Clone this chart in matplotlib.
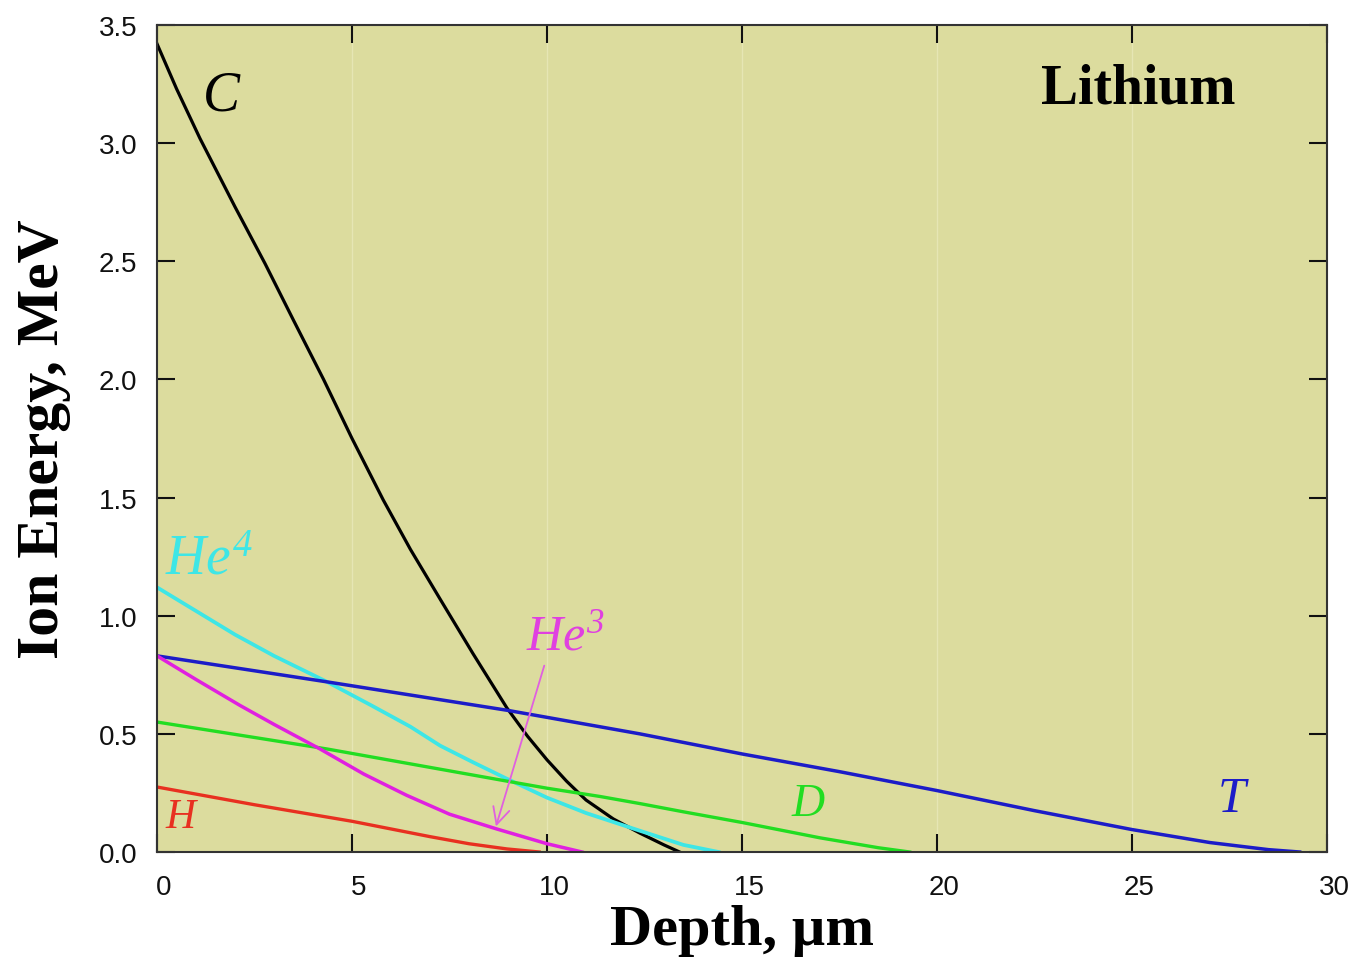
import matplotlib
matplotlib.use("Agg")
import matplotlib.pyplot as plt
from matplotlib.transforms import ScaledTranslation

# ion ranges in lithium
c_depth = [0, 0.5, 1.1, 2.0, 2.77, 3.5, 4.27, 5.0, 5.8, 6.5, 7.26, 8.1, 8.97,
           9.5, 10.0, 10.5, 11.0, 11.7, 12.38, 13.0, 13.4]
c_energy = [3.42, 3.23, 3.02, 2.73, 2.49, 2.25, 2.0, 1.75, 1.49, 1.28, 1.07, 0.84,
            0.61, 0.49, 0.39, 0.30, 0.22, 0.14, 0.08, 0.03, 0.0]

he4_depth = [0, 1, 2, 3, 4.36, 5.5, 6.5, 7.26, 8.1, 8.97, 10.0, 11.0, 12.38, 13.5, 14.4]
he4_energy = [1.12, 1.02, 0.92, 0.83, 0.72, 0.62, 0.53, 0.45, 0.38, 0.31, 0.23,
              0.165, 0.09, 0.03, 0.0]

t_depth = [0, 4.36, 8.97, 11.36, 12.38, 15.0, 17.5, 20.0, 22.5, 25.0, 27.0, 28.5, 29.3]
t_energy = [0.83, 0.72, 0.60, 0.53, 0.50, 0.415, 0.34, 0.26, 0.175, 0.095, 0.04,
            0.01, 0.0]

d_depth = [0, 4.36, 8.97, 10.0, 11.36, 12.38, 13.5, 15.0, 17.0, 18.5, 19.3]
d_energy = [0.55, 0.436, 0.30, 0.27, 0.235, 0.205, 0.17, 0.125, 0.06, 0.018, 0.0]

he3_depth = [0, 1, 2.13, 3, 4.18, 5.3, 6.4, 7.5, 8.72, 10.0, 10.9]
he3_energy = [0.83, 0.73, 0.62, 0.54, 0.436, 0.33, 0.24, 0.16, 0.097, 0.035, 0.0]

h_depth = [0, 2.5, 5.0, 7.0, 8.0, 8.97, 9.8]
h_energy = [0.275, 0.20, 0.13, 0.065, 0.035, 0.013, 0.0]

x_ticks = [0, 5, 10, 15, 20, 25, 30]
y_ticks = [0.0, 0.5, 1.0, 1.5, 2.0, 2.5, 3.0, 3.5]

BG = "#dcdc9e"
SERIF = "Liberation Serif"

plt.rcParams["mathtext.fontset"] = "custom"
plt.rcParams["mathtext.it"] = "Liberation Serif:italic"
plt.rcParams["mathtext.rm"] = "Liberation Serif:italic"

fig = plt.figure(figsize=(13.55, 9.62), dpi=100)
ax = fig.add_axes([0.1159, 0.1133, 0.8634, 0.8597])
ax.set_facecolor(BG)

for xv in x_ticks[1:-1]:
    ax.axvline(xv, color="#e6e6b4", lw=1.0, zorder=0)

ax.plot(c_depth, c_energy, color="black", lw=2.3)
ax.plot(he4_depth, he4_energy, color="#3ee6e6", lw=2.7)
ax.plot(t_depth, t_energy, color="#1c1cc8", lw=2.5)
ax.plot(d_depth, d_energy, color="#22dd22", lw=2.4)
ax.plot(he3_depth, he3_energy, color="#e020e0", lw=2.5)
ax.plot(h_depth, h_energy, color="#e83020", lw=2.4)

ax.annotate("", xy=(8.67, 0.097), xytext=(9.95, 0.80),
            arrowprops=dict(arrowstyle="->", color="#e060e0", lw=1.3,
                            mutation_scale=30))

ax.text(1.64, 3.2, "C", family=SERIF, style="italic", fontsize=40,
        ha="center", va="center", color="black")
ax.text(0.2, 1.24, r"$He^{4}$", fontsize=40, ha="left", va="center",
        color="#3ee6e6")
ax.text(9.45, 0.92, r"$He^{3}$", fontsize=36, ha="left", va="center",
        color="#e040e0")
ax.text(0.59, 0.148, "H", family=SERIF, style="italic", fontsize=30,
        ha="center", va="center", color="#e83020")
ax.text(16.7, 0.203, "D", family=SERIF, style="italic", fontsize=33,
        ha="center", va="center", color="#22dd22")
ax.text(27.56, 0.224, "T", family=SERIF, style="italic", fontsize=36,
        ha="center", va="center", color="#1c1cc8")
ax.text(25.15, 3.23, "Lithium", family=SERIF, weight="bold", fontsize=40,
        ha="center", va="center", color="black")

ax.set_xlim(0, 30)
ax.set_ylim(0, 3.5)
ax.set_xticks(x_ticks)
ax.set_yticks(y_ticks)
ax.set_yticklabels([f"{v:.1f}" for v in y_ticks])
ax.tick_params(direction="in", top=True, right=True, length=13, width=1.5,
               labelsize=20, colors="#111111")
ax.tick_params(axis="x", pad=16)
ax.tick_params(axis="y", pad=14)
for lab in ax.get_xticklabels():
    lab.set_family("Liberation Sans")
    lab.set_transform(lab.get_transform() + ScaledTranslation(0.07, 0, fig.dpi_scale_trans))
for lab in ax.get_yticklabels():
    lab.set_family("Liberation Sans")
for s in ax.spines.values():
    s.set_linewidth(1.5)
    s.set_color("#333333")

ax.set_xlabel("Depth, \u00b5m", family=SERIF, weight="bold", fontsize=42, labelpad=3)
ax.set_ylabel("Ion Energy, MeV", family=SERIF, weight="bold", fontsize=43, labelpad=20)

fig.savefig("out.png", dpi=100, facecolor="white")
